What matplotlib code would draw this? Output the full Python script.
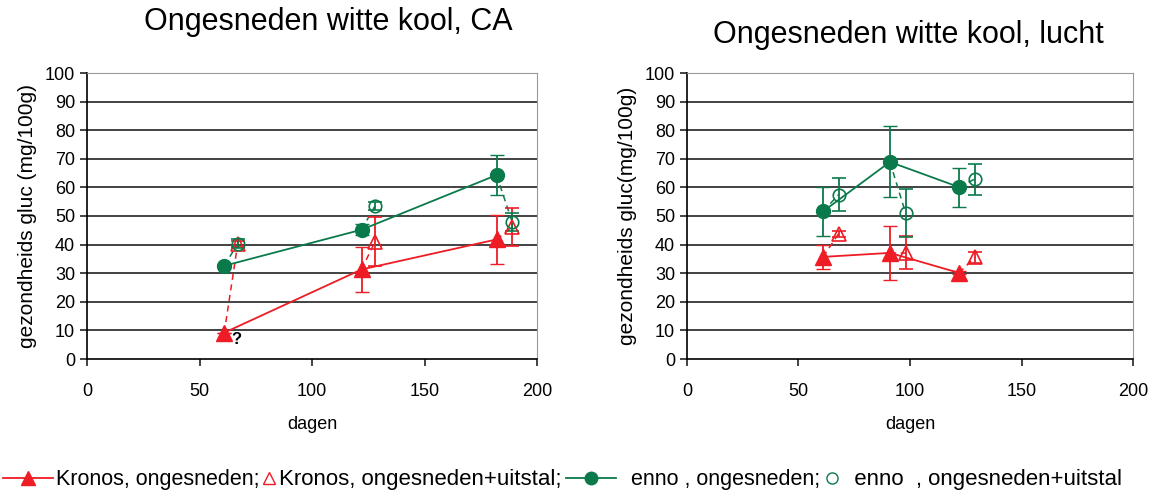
import matplotlib
matplotlib.use("Agg")
import matplotlib.pyplot as plt
from matplotlib.lines import Line2D

plt.rcParams['font.family'] = ['Liberation Sans', 'DejaVu Sans']

# --- data: CA storage ---
days_f_ca = [61, 122, 182]
days_o_ca = [67, 128, 189]
kronos_f_ca = [9.2, 31.3, 41.8]
kronos_f_ca_err = [0, 7.7, 8.5]
kronos_o_ca = [40.3, 41.0, 46.2]
kronos_o_ca_err = [1.0, 8.5, 6.7]
enno_f_ca = [32.6, 45.2, 64.3]
enno_f_ca_err = [0.5, 2.0, 7.1]
enno_o_ca = [40.3, 53.5, 47.9]
enno_o_ca_err = [1.5, 1.5, 3.0]

# --- data: air storage (lucht) ---
days_f_l = [61, 91, 122]
days_o_l = [68, 98, 129]
kronos_f_l = [35.7, 37.1, 30.1]
kronos_f_l_err = [4.2, 9.4, 0.5]
kronos_o_l = [43.8, 37.1, 35.5]
kronos_o_l_err = [1.0, 5.8, 2.0]
enno_f_l = [51.6, 68.9, 60.1]
enno_f_l_err = [8.5, 12.4, 6.8]
enno_o_l = [57.5, 51.1, 62.9]
enno_o_l_err = [5.9, 8.4, 5.4]

RED = '#ee1c25'
GREEN = '#0b7a4b'

fig = plt.figure(figsize=(11.56, 4.95), dpi=100)
ax1 = fig.add_axes([87/1156, 136/495, 450/1156, 286/495])
ax2 = fig.add_axes([687/1156, 136/495, 446/1156, 286/495])


def draw(ax, df, do, kf, kfe, ko, koe, ef, efe, eo, eoe, ylabel):
    for y in range(10, 100, 10):
        ax.axhline(y, color='#222222', lw=1.2, zorder=0)
    # dashed connectors between filled and open points
    for i in range(len(df)):
        ax.plot([df[i], do[i]], [kf[i], ko[i]], color=RED, lw=1.1, ls=(0, (4, 3)), zorder=2)
        ax.plot([df[i], do[i]], [ef[i], eo[i]], color=GREEN, lw=1.1, ls=(0, (4, 3)), zorder=2)
    ax.errorbar(df, kf, yerr=kfe, color=RED, lw=1.3, marker='^', ms=11, mfc=RED, mec=RED,
                capsize=5, elinewidth=1.3, zorder=3)
    ax.errorbar(do, ko, yerr=koe, color=RED, ls='none', marker='^', ms=10, mfc='none', mec=RED,
                mew=1.2, capsize=5, elinewidth=1.3, zorder=3)
    ax.errorbar(df, ef, yerr=efe, color=GREEN, lw=1.3, marker='o', ms=10, mfc=GREEN, mec=GREEN,
                capsize=5, elinewidth=1.3, zorder=3)
    ax.errorbar(do, eo, yerr=eoe, color=GREEN, ls='none', marker='o', ms=9, mfc='none', mec=GREEN,
                mew=1.2, capsize=5, elinewidth=1.3, zorder=3)
    ax.set_xlim(0, 200)
    ax.set_ylim(0, 100)
    ax.set_xticks(range(0, 201, 50))
    ax.set_yticks(range(0, 101, 10))
    ax.tick_params(axis='both', labelsize=13, direction='out', length=5, width=1.2, color='#222222')
    ax.tick_params(axis='x', pad=12)
    ax.spines['left'].set_linewidth(1.2)
    ax.spines['bottom'].set_linewidth(1.2)
    ax.spines['top'].set_color('#999999')
    ax.spines['right'].set_color('#999999')
    ax.set_xlabel('dagen', fontsize=13, labelpad=12)
    ax.set_ylabel(ylabel, fontsize=15, labelpad=6)


draw(ax1, days_f_ca, days_o_ca, kronos_f_ca, kronos_f_ca_err, kronos_o_ca, kronos_o_ca_err,
     enno_f_ca, enno_f_ca_err, enno_o_ca, enno_o_ca_err, 'gezondheids gluc (mg/100g)')
draw(ax2, days_f_l, days_o_l, kronos_f_l, kronos_f_l_err, kronos_o_l, kronos_o_l_err,
     enno_f_l, enno_f_l_err, enno_o_l, enno_o_l_err, 'gezondheids gluc(mg/100g)')

ax1.text(days_f_ca[0] + 3, kronos_f_ca[0] - 2.5, '?', fontsize=12, fontweight='bold', va='center')

fig.text(328/1156, 1 - 22/495, 'Ongesneden witte kool, CA', fontsize=22, ha='center', va='center')
fig.text(908/1156, 1 - 35/495, 'Ongesneden witte kool, lucht', fontsize=22, ha='center', va='center')

# legend: one small legend per entry so line and marker-only handles get their own length
entries = [
    (Line2D([], [], color=RED, lw=1.3, marker='^', ms=10, mfc=RED, mec=RED),
     'Kronos, ongesneden;', 3, 2.3, 15.5),
    (Line2D([], [], color=RED, ls='none', marker='^', ms=8, mfc='none', mec=RED),
     'Kronos, ongesneden+uitstal;', 263, 0.55, 16),
    (Line2D([], [], color=GREEN, lw=1.3, marker='o', ms=9, mfc=GREEN, mec=GREEN),
     '  enno , ongesneden;', 566, 2.3, 15.5),
    (Line2D([], [], color=GREEN, ls='none', marker='o', ms=8, mfc='none', mec=GREEN),
     '  enno  , ongesneden+uitstal', 826, 0.55, 16),
]
for h, lab, x0, hl, fs in entries:
    fig.legend([h], [lab], loc='center left', bbox_to_anchor=(x0/1156, 1 - 480/495),
               frameon=False, fontsize=fs, handlelength=hl, handletextpad=0.15,
               borderaxespad=0, borderpad=0)

fig.savefig('out.png', dpi=100)
